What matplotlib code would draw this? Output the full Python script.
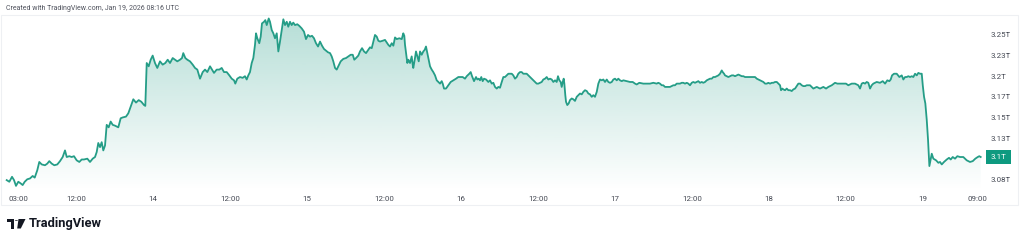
import numpy as np
import matplotlib
matplotlib.use("Agg")
import matplotlib.pyplot as plt
from matplotlib.patches import Polygon, Circle, Rectangle
from matplotlib.transforms import blended_transform_factory

# hours since Jan 13 00:00, market cap in trillions
hours = [
    1.19, 1.60, 2.02, 2.33, 2.64, 3.00, 3.37, 3.68, 4.00, 4.40, 4.82, 5.24, 5.56, 5.96,
    6.27, 6.65, 7.16, 7.52, 7.83, 8.21, 8.61, 9.08, 9.50, 9.92, 10.28, 10.55, 10.95, 11.32,
    11.68, 12.10, 12.51, 12.88, 13.24, 13.76, 14.18, 14.60, 14.96, 15.22, 15.47, 15.74,
    16.00, 16.25, 16.52, 16.78, 17.09, 17.40, 17.72, 18.08, 18.59, 18.96, 19.28, 19.79,
    20.15, 20.52, 20.93, 21.35, 21.77, 22.18, 22.60, 22.80, 23.02, 23.33, 23.64, 23.95,
    24.31, 24.67, 25.09, 25.51, 25.92, 26.29, 26.65,
    27.07, 27.43, 27.79, 28.21, 28.52, 28.72, 29.04, 29.35, 29.77, 30.19, 30.55, 30.91,
    31.33, 31.75, 32.11, 32.47, 32.89, 33.20, 33.51, 33.93, 34.34, 34.71, 35.07, 35.49,
    35.90, 36.27, 36.63, 36.83, 37.14, 37.56, 37.98, 38.34, 38.61, 38.86, 39.12, 39.39,
    39.64, 39.90, 40.06, 40.26, 40.57, 40.79, 40.99, 41.31, 41.51, 41.73, 42.04, 42.24,
    42.51, 42.76, 43.02, 43.29, 43.54, 43.80, 44.07, 44.32, 44.58, 44.85, 45.09, 45.36,
    45.62, 45.87, 46.14, 46.50, 46.81, 47.18, 47.54, 47.85, 48.17, 48.48, 48.79, 49.10,
    49.41, 49.73, 50.04, 50.35, 50.66, 50.97, 51.28, 51.60,
    51.86, 52.11, 52.38, 52.64, 52.89, 53.26, 53.67, 54.09, 54.45, 54.82, 55.14, 55.38,
    55.65, 56.01, 56.27, 56.59, 56.90, 57.21, 57.57, 57.83, 58.10, 58.35, 58.61, 58.88,
    59.13, 59.39, 59.81, 60.17, 60.44, 60.69, 60.95, 61.22, 61.47, 61.73, 62.00, 62.40,
    62.78, 63.02, 63.18, 63.29, 63.45, 63.65, 63.81, 64.07, 64.33, 64.49, 64.58, 64.80,
    65.00, 65.21, 65.43, 65.63, 65.89, 66.14, 66.36, 66.56, 66.77, 66.98, 67.19, 67.45,
    67.70, 67.97, 68.23, 68.48, 68.75, 69.01, 69.17, 69.37, 69.68, 70.04, 70.41, 70.82,
    71.24, 71.60, 71.86, 72.28, 72.64, 72.91, 73.31, 73.53, 73.74, 74.05, 74.36, 74.56,
    74.78, 74.98, 75.18, 75.40, 75.61, 75.92, 76.28, 76.54,
    76.81, 77.06, 77.32, 77.59, 77.84, 78.10, 78.37, 78.62, 78.88, 79.15, 79.40, 79.66,
    79.93, 80.17, 80.44, 80.70, 80.95, 81.22, 81.48, 81.73, 82.00, 82.26, 82.51, 82.78,
    83.04, 83.29, 83.56, 83.82, 84.07, 84.34, 84.60, 84.85, 85.12, 85.38, 85.63, 85.90,
    86.16, 86.41, 86.68, 86.94, 87.14, 87.35, 87.56, 87.72, 87.88, 88.03, 88.13, 88.28,
    88.39, 88.59, 88.81, 89.01, 89.28, 89.53, 89.79, 90.06, 90.31, 90.57, 90.84, 91.09,
    91.35, 91.62, 91.87, 92.13, 92.40, 92.65, 92.91, 93.18, 93.43, 93.69, 93.96, 94.21,
    94.47, 94.74, 94.99, 95.25, 95.52, 95.77, 96.03, 96.30, 96.55, 96.81, 97.08, 97.33,
    97.86, 98.37, 98.79, 99.15, 99.41, 99.82, 100.44, 100.97, 101.48,
    102.00, 102.53, 102.78, 103.04, 103.31, 103.56, 103.82, 104.09, 104.34, 104.60, 104.87,
    105.12, 105.38, 105.65, 106.16, 106.43, 106.68, 106.94, 107.21, 107.46, 107.72, 107.99,
    108.24, 108.50, 108.77, 109.02, 109.28, 109.55, 109.80, 110.06, 110.33, 110.58, 110.84,
    111.11, 111.36, 111.62, 111.89, 112.14, 112.40, 112.67, 112.82, 113.03, 113.18, 113.45,
    113.70, 113.96, 114.23, 114.48, 114.74, 115.01, 115.26, 115.52, 115.79, 116.04, 116.30,
    116.57, 117.08, 117.35, 117.60, 117.86, 118.13, 118.38, 118.64, 118.91, 119.16, 119.42,
    119.69, 119.94, 120.20, 120.47, 120.72, 120.98, 121.25, 121.50, 121.76, 121.91, 122.12,
    122.27, 122.54, 122.80, 123.05, 123.32, 123.58, 123.83, 124.10, 124.36, 124.61, 124.88,
    125.14, 125.39, 125.66, 125.92, 126.43,
    126.95, 127.48, 127.99, 128.51, 128.93, 129.29, 129.82, 130.33, 130.69, 131.11, 131.53,
    132.04, 132.40, 132.93, 133.45, 133.96, 134.23, 134.49, 134.74, 135.01, 135.27, 135.52,
    135.79, 136.05, 136.30, 136.83, 137.34, 137.77, 138.13, 138.48, 138.80, 139.01, 139.22,
    139.53, 139.95, 140.36, 140.73, 140.98, 141.25, 141.51, 141.76, 142.03, 142.29, 142.54,
    142.81, 143.07, 143.32, 143.59, 143.85, 144.01, 144.21, 144.41, 144.63, 144.83, 145.04,
    145.41, 145.66, 146.08, 146.44, 146.70, 146.97, 147.32, 147.75, 148.10, 148.37, 148.68,
    149.04, 149.40, 149.82, 150.33, 150.86, 151.37, 151.80, 152.20, 152.58, 152.82, 153.04,
]
mcap = [
    3.074, 3.072, 3.078, 3.074, 3.067, 3.072, 3.070, 3.068, 3.072, 3.075, 3.076, 3.079, 3.077, 3.086,
    3.096, 3.093, 3.092, 3.094, 3.097, 3.094, 3.092, 3.093, 3.097, 3.102, 3.110, 3.102, 3.103, 3.102,
    3.103, 3.098, 3.096, 3.099, 3.099, 3.100, 3.096, 3.100, 3.102, 3.108, 3.119, 3.114,
    3.120, 3.110, 3.116, 3.141, 3.138, 3.145, 3.141, 3.140, 3.138, 3.149, 3.150, 3.151,
    3.155, 3.163, 3.172, 3.168, 3.171, 3.169, 3.165, 3.164, 3.216, 3.212, 3.220, 3.225,
    3.216, 3.210, 3.218, 3.214, 3.216, 3.220, 3.216,
    3.222, 3.220, 3.218, 3.220, 3.222, 3.228, 3.222, 3.220, 3.218, 3.214, 3.210, 3.208,
    3.197, 3.205, 3.208, 3.205, 3.212, 3.208, 3.204, 3.208, 3.208, 3.210, 3.205, 3.205,
    3.201, 3.197, 3.195, 3.191, 3.197, 3.199, 3.198, 3.200, 3.196, 3.201, 3.205, 3.216,
    3.222, 3.238, 3.252, 3.246, 3.240, 3.248, 3.264, 3.266, 3.268, 3.262, 3.270, 3.266,
    3.256, 3.252, 3.246, 3.252, 3.230, 3.242, 3.256, 3.269, 3.262, 3.266, 3.260, 3.266,
    3.262, 3.265, 3.262, 3.263, 3.261, 3.258, 3.254, 3.245, 3.250, 3.248, 3.249, 3.246,
    3.240, 3.236, 3.242, 3.237, 3.233, 3.231, 3.229, 3.228,
    3.224, 3.218, 3.210, 3.208, 3.212, 3.218, 3.221, 3.222, 3.224, 3.226, 3.226, 3.220,
    3.222, 3.225, 3.230, 3.234, 3.230, 3.228, 3.232, 3.235, 3.234, 3.242, 3.250, 3.248,
    3.243, 3.242, 3.243, 3.244, 3.241, 3.238, 3.236, 3.240, 3.237, 3.247, 3.245, 3.246,
    3.245, 3.252, 3.249, 3.238, 3.228, 3.216, 3.220, 3.216, 3.224, 3.214, 3.210, 3.220,
    3.230, 3.224, 3.218, 3.230, 3.226, 3.230, 3.232, 3.236, 3.228, 3.220, 3.212, 3.208,
    3.205, 3.201, 3.195, 3.193, 3.191, 3.194, 3.191, 3.185, 3.185, 3.189, 3.193, 3.195,
    3.197, 3.199, 3.199, 3.199, 3.197, 3.200, 3.203, 3.205, 3.200, 3.194, 3.199, 3.196,
    3.197, 3.195, 3.199, 3.194, 3.197, 3.196, 3.193, 3.195,
    3.191, 3.192, 3.187, 3.185, 3.187, 3.186, 3.193, 3.199, 3.199, 3.201, 3.203, 3.203,
    3.203, 3.201, 3.197, 3.199, 3.203, 3.205, 3.205, 3.203, 3.203, 3.203, 3.201, 3.199,
    3.197, 3.195, 3.193, 3.191, 3.191, 3.192, 3.193, 3.196, 3.197, 3.199, 3.196, 3.197,
    3.196, 3.193, 3.195, 3.193, 3.200, 3.195, 3.193, 3.187, 3.193, 3.197, 3.191, 3.177,
    3.169, 3.165, 3.167, 3.171, 3.173, 3.172, 3.170, 3.175, 3.177, 3.179, 3.178, 3.181,
    3.183, 3.182, 3.179, 3.178, 3.175, 3.177, 3.175, 3.181, 3.191, 3.196, 3.195, 3.196,
    3.193, 3.196, 3.193, 3.192, 3.193, 3.196, 3.197, 3.195, 3.197, 3.195, 3.194, 3.195,
    3.194, 3.193, 3.193, 3.191, 3.190, 3.192, 3.191, 3.191, 3.191,
    3.192, 3.191, 3.192, 3.191, 3.189, 3.189, 3.187, 3.187, 3.187, 3.187, 3.188,
    3.189, 3.189, 3.191, 3.191, 3.192, 3.192, 3.191, 3.192, 3.191, 3.189, 3.192,
    3.193, 3.192, 3.193, 3.194, 3.192, 3.193, 3.192, 3.193, 3.195, 3.196, 3.197,
    3.197, 3.199, 3.199, 3.200, 3.201, 3.203, 3.207, 3.205, 3.203, 3.201, 3.200,
    3.199, 3.200, 3.201, 3.201, 3.200, 3.201, 3.202, 3.201, 3.200, 3.200, 3.199,
    3.199, 3.199, 3.199, 3.199, 3.199, 3.197, 3.196, 3.195, 3.194, 3.193, 3.191,
    3.191, 3.192, 3.191, 3.192, 3.192, 3.193, 3.193, 3.191, 3.189, 3.183, 3.185,
    3.184, 3.183, 3.185, 3.183, 3.183, 3.182, 3.184, 3.185, 3.188, 3.191, 3.191,
    3.189, 3.188, 3.188, 3.189, 3.189,
    3.185, 3.187, 3.185, 3.187, 3.185, 3.187, 3.189, 3.192, 3.191, 3.191, 3.191,
    3.191, 3.189, 3.191, 3.191, 3.189, 3.185, 3.191, 3.192, 3.191, 3.193, 3.192,
    3.185, 3.189, 3.191, 3.193, 3.192, 3.194, 3.191, 3.195, 3.194, 3.196, 3.201,
    3.203, 3.203, 3.199, 3.201, 3.196, 3.199, 3.199, 3.200, 3.199, 3.200, 3.199,
    3.203, 3.201, 3.204, 3.203, 3.203, 3.189, 3.175, 3.167, 3.147, 3.123, 3.091,
    3.106, 3.100, 3.098, 3.095, 3.096, 3.093, 3.096, 3.099, 3.101, 3.099, 3.102,
    3.100, 3.103, 3.102, 3.102, 3.098, 3.096, 3.097, 3.100, 3.102, 3.103, 3.102,
]

xtick_pos = [3, 12, 24, 36, 48, 60, 72, 84, 96, 108, 120, 132, 144, 152.5]
xtick_labels = ["03:00", "12:00", "14", "12:00", "15", "12:00", "16", "12:00",
                "17", "12:00", "18", "12:00", "19", "09:00"]
ytick_pos = [3.25, 3.225, 3.2, 3.175, 3.15, 3.125, 3.075]
ytick_labels = ["3.25T", "3.23T", "3.2T", "3.17T", "3.15T", "3.13T", "3.08T"]
last_label = "3.1T"

line_col = "#259d87"
badge_col = "#0e9a80"
text_col = "#454954"

plt.rcParams["font.family"] = ["Roboto", "DejaVu Sans"]

W, H = 1024, 242
fig = plt.figure(figsize=(W / 100, H / 100), dpi=100)
fig.patch.set_facecolor("white")


def fx(x):
    return x / W


def fy(y):
    return 1 - y / H


# faint chart frame
fig.add_artist(Rectangle((fx(0.5), fy(205)), fx(1017), 190 / H, transform=fig.transFigure,
                         fill=False, edgecolor="#eef0f3", lw=0.8))

ax = fig.add_axes([fx(4), fy(190), (983 - 4) / W, (190 - 16) / H])
xlim = (0.77, 153.4)
ylim = (3.062, 3.273)
ax.set_xlim(*xlim)
ax.set_ylim(*ylim)

x = np.array(hours)
y = np.array(mcap)

# gradient area under the line
poly = ax.fill_between(x, y, ylim[0], facecolor="none", edgecolor="none")
grad = np.zeros((256, 1, 4))
rgb = matplotlib.colors.to_rgb(line_col)
grad[:, 0, :3] = rgb
grad[:, 0, 3] = np.linspace(0.34, 0.0, 256)
im = ax.imshow(grad, extent=[xlim[0], xlim[1], ylim[0], ylim[1]], aspect="auto",
               origin="upper", interpolation="bilinear", zorder=1)
im.set_clip_path(poly.get_paths()[0], transform=ax.transData)

ax.plot(x, y, color=line_col, lw=1.3, zorder=3, solid_joinstyle="round")

for s in ax.spines.values():
    s.set_visible(False)
ax.set_xticks(xtick_pos)
ax.set_xticklabels(xtick_labels)
ax.yaxis.tick_right()
ax.set_yticks(ytick_pos)
ax.set_yticklabels(ytick_labels)
ax.tick_params(axis="both", length=0, labelsize=5.7, labelcolor=text_col)
ax.tick_params(axis="x", pad=4)
ax.tick_params(axis="y", pad=5.5)

# last value badge
tr = blended_transform_factory(fig.transFigure, ax.transData)
ax.text(fx(998.5), y[-1], last_label, transform=tr, ha="center", va="center",
        fontsize=5.7, color="white", clip_on=False,
        bbox=dict(boxstyle="square,pad=0.55", fc=badge_col, ec="none"))

fig.text(fx(6), fy(8), "Created with TradingView.com, Jan 19, 2026 08:16 UTC",
         fontsize=5, color="#50535e", ha="left", va="center")

# TradingView logo
logo = "#131722"
fig.add_artist(Polygon([(fx(7), fy(219)), (fx(14.2), fy(219)), (fx(14.2), fy(228.5)),
                        (fx(11), fy(228.5)), (fx(11), fy(222.2)), (fx(7), fy(222.2))],
                       closed=True, transform=fig.transFigure, fc=logo, ec="none"))
fig.add_artist(Circle((fx(16.4), fy(220.6)), 1.6 / W, transform=fig.transFigure,
                      fc=logo, ec="none"))
fig.add_artist(Polygon([(fx(18.5), fy(219)), (fx(25.5), fy(219)), (fx(20.8), fy(228.5)),
                        (fx(17.2), fy(228.5))],
                       closed=True, transform=fig.transFigure, fc=logo, ec="none"))
fig.text(fx(29), fy(224), "TradingView", fontsize=9.3, fontweight="bold", color=logo,
         ha="left", va="center")

fig.savefig("out.png", dpi=100, facecolor="white")
